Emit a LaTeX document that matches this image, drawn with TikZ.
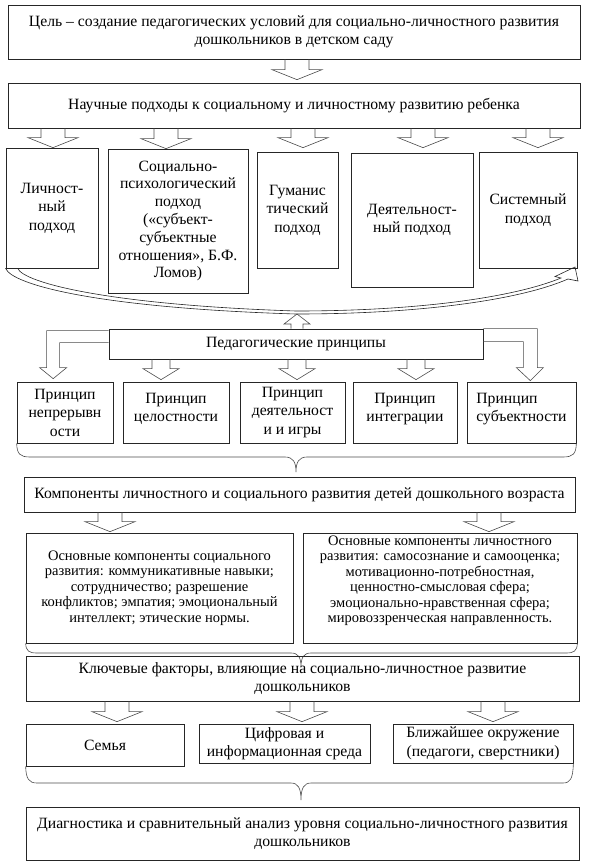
\documentclass[tikz,border=0pt]{standalone}
\usepackage{fontspec}
\setmainfont{Liberation Serif}
\usetikzlibrary{calc}

\begin{document}
\begin{tikzpicture}[
  x=1pt, y=-1pt,
  font=\fontsize{15.7}{18.5}\selectfont,
  box/.style={draw=black!85, line width=0.7pt, align=center, inner sep=0pt},
  small/.style={box, font=\fontsize{14.5}{15.5}\selectfont},
  arr/.style={draw=black!70, line width=0.6pt},
  hollow/.style n args={3}{arr, to path={let \p1=(\tikztostart), \p2=(\tikztotarget), \n1={sign(\y1-\y2)} in
      (\x2-#1,\y1) -- (\x2-#1,\y2+\n1*#3) -- (\x2-#2,\y2+\n1*#3) -- (\x2,\y2) -- (\x2+#2,\y2+\n1*#3) -- (\x2+#1,\y2+\n1*#3) -- (\x2+#1,\y1)}},
  big/.style={hollow={12pt}{25pt}{10pt}},
  mid/.style={hollow={9pt}{18pt}{11pt}},
  brace/.style={draw=black!70, line width=0.6pt}
]
\useasboundingbox (0,0) rectangle (589,868);
% goal and approaches
\node[box, minimum width=572pt, minimum height=54pt] (goal) at (294,32) {Цель – создание педагогических условий для социально-личностного развития\\дошкольников в детском саду};
\node[box, minimum width=572pt, minimum height=45pt] (sci) at (294,105.5) {Научные подходы к социальному и личностному развитию ребенка};
\node[box, minimum width=92pt, minimum height=120pt] (p1) at (52,208) {Личност-\\ный\\подход};
\node[box, minimum width=140pt, minimum height=144pt, font=\fontsize{15.7}{17.8}\selectfont] (p2) at (178,221) {Социально-\\психологический\\подход\\(«субъект-\\субъектные\\отношения», Б.Ф.\\Ломов)};
\node[box, minimum width=81pt, minimum height=116pt] (p3) at (297.5,210) {Гуманис\\тический\\подход};
\node[box, minimum width=122pt, minimum height=134pt] (p4) at (412,220) {Деятельност-\\ный подход};
\node[box, minimum width=98pt, minimum height=116pt] (p5) at (528,210) {Системный\\подход};
\draw[big] (goal.south) to ([xshift=3pt,yshift=3pt]sci.north);
\draw[big] (sci.south) to ([xshift=1pt]p1.north);
\draw[big] (sci.south) to ([xshift=-12pt]p2.north);
\draw[big] (sci.south) to ([xshift=5.5pt,yshift=4pt]p3.north);
\draw[big] (sci.south) to ([xshift=11pt,yshift=5pt]p4.north);
\draw[big] (sci.south) to ([xshift=10pt,yshift=4pt]p5.north);
% curved band under the approaches
\draw[arr, draw=black!85] ([xshift=12pt]p1.south west) .. controls (24,283) and (110,305) .. (296,311)
  .. controls (420,311) and (515,297) .. (561,278) -- (555,276.5) -- (575,267) -- (578,281) -- (568,279)
  .. controls (520,300) and (420,314) .. (296,314) .. controls (100,308) and (12,285) .. (p1.south west) -- cycle;
\coordinate (low) at (297,314);
% principles
\node[box, minimum width=374pt, minimum height=30pt] (ped) at (296,344) {Педагогические принципы};
\draw[hollow={6pt}{13pt}{10pt}] (ped.north) to (low);
\node[box, minimum width=96pt, minimum height=61pt] (q1) at (65,412.5) {Принцип\\непрерывн\\ости};
\node[box, minimum width=106pt, minimum height=61pt] (q2) at (176,412.5) {Принцип\\целостности\\[-8pt]\mbox{}};
\node[box, minimum width=105pt, minimum height=61pt] (q3) at (292.5,412.5) {Принцип\\деятельност\\и и игры};
\node[box, minimum width=104pt, minimum height=61pt] (q4) at (405,412.5) {Принцип\\интеграции\\[-8pt]\mbox{}};
\node[box, align=left, minimum width=109pt, minimum height=61pt] (q5) at (521.5,412.5) {Принцип\\субъектности\\[-8pt]\mbox{}};
\draw[arr] ($(ped.north west)+(0,2)$) -- ++(-62,0) -- ++(0,37) -- ++(-7,0) -- ++(13.5,11) -- ++(13.5,-11)
  -- ++(-7,0) -- ++(0,-25) -- ++(49,0);
\draw[arr] (ped.north east) -- ++(54,0) -- ++(0,39) -- ++(6,0) -- ++(-13,13) -- ++(-14,-13)
  -- ++(7,0) -- ++(0,-26) -- ++(-40,0);
\draw[mid] (ped.south) to ([xshift=-15pt,yshift=2pt]q2.north);
\draw[mid] (ped.south) to ([xshift=4.5pt,yshift=2pt]q3.north);
\draw[mid] (ped.south) to ([xshift=11pt,yshift=2pt]q4.north);
\draw[brace] (q1.south west) .. controls (17,454) and (20,457) .. (30,457) -- (285,457)
  .. controls (293,457) and (296,462) .. (296,472) .. controls (296,462) and (299,457) .. (307,457)
  -- (563,457) .. controls (573,457) and (576,454) .. (q5.south east);
% components
\node[box, minimum width=551pt, minimum height=35pt] (comp) at (299.5,494.5) {Компоненты личностного и социального развития детей дошкольного возраста};
\node[small, minimum width=267pt, minimum height=110pt] (c1) at (159.5,588) {Основные компоненты социального\\развития: коммуникативные навыки;\\сотрудничество; разрешение\\конфликтов; эмпатия; эмоциональный\\интеллект; этические нормы.};
\node[small, minimum width=274pt, minimum height=110pt] (c2) at (440,588) {Основные компоненты личностного\\развития: самосознание и самооценка;\\мотивационно-потребностная,\\ценностно-смысловая сфера;\\эмоционально-нравственная сфера;\\мировоззренческая направленность.\\[2pt]\mbox{}};
\draw[big] (comp.south) to ([xshift=-49.5pt,yshift=1pt]c1.north);
\draw[big] (comp.south) to ([xshift=49pt,yshift=1pt]c2.north);
\draw[brace] (c1.south west) .. controls (26,651) and (29,653) .. (37,653) -- (291,653)
  .. controls (298,653) and (301,657) .. (301,667) .. controls (301,657) and (304,653) .. (311,653)
  -- (566,653) .. controls (574,653) and (577,651) .. (c2.south east);
% key factors
\node[box, minimum width=553pt, minimum height=45pt] (key) at (302.5,678.5) {Ключевые факторы, влияющие на социально-личностное развитие\\дошкольников};
\node[box, minimum width=158pt, minimum height=42pt] (f1) at (105,745) {Семья};
\node[box, minimum width=171pt, minimum height=39pt] (f2) at (284.5,743.5) {Цифровая и\\информационная среда};
\node[box, minimum width=180pt, minimum height=39pt] (f3) at (483,743.5) {Ближайшее окружение\\(педагоги, сверстники)};
\draw[big] (key.south) to ([xshift=12pt,yshift=2pt]f1.north);
\draw[big] (key.south) to ([xshift=17.5pt,yshift=2pt]f2.north);
\draw[big] (key.south) to ([xshift=10pt,yshift=2pt]f3.north);
\draw[brace] (f1.south west) .. controls (26,779) and (29,783) .. (37,783) -- (291,783)
  .. controls (298,783) and (301,788) .. (301,800) .. controls (301,788) and (304,783) .. (311,783)
  -- (563,783) .. controls (570,783) and (573,779) .. (f3.south east);
\node[box, minimum width=553pt, minimum height=53pt] (diag) at (302.5,833.5) {Диагностика и сравнительный анализ уровня социально-личностного развития\\дошкольников};
\end{tikzpicture}
\end{document}
